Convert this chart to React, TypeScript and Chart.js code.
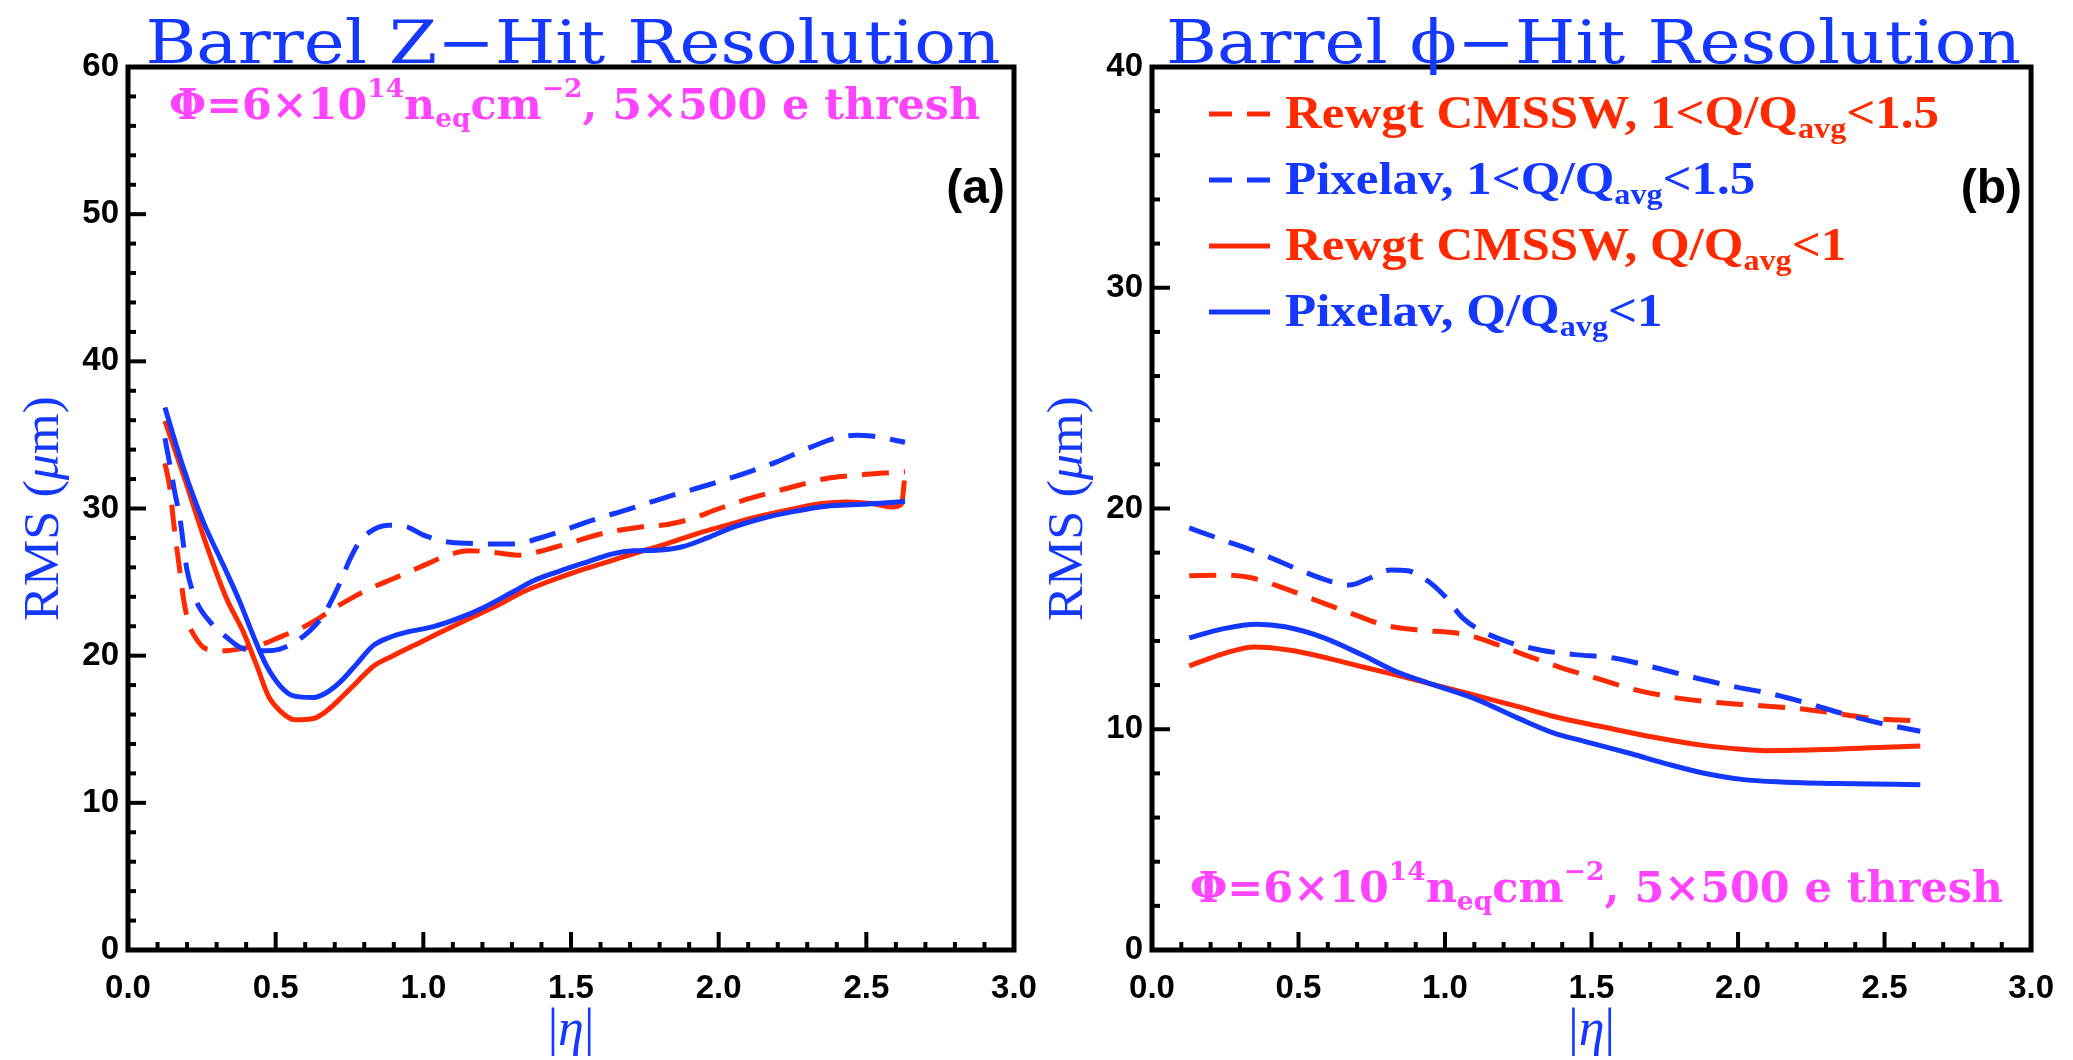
import React, { useEffect, useRef } from "react";
import { Chart, registerables } from "chart.js";
Chart.register(...registerables);

type Pt = [number, number];

const RED = "#ff2a00";
const BLUE = "#1438ff";
const MAGENTA = "#ff44ff";

// ---------- Panel (a): Barrel Z-hit resolution (RMS in um vs |eta|) ----------
const zPixelavHigh: Pt[] = [
  [0.125, 34.77], [0.142, 32.95], [0.158, 31.14], [0.176, 29.32], [0.188, 27.5], [0.199, 25.9],
  [0.216, 24.55], [0.238, 23.41], [0.289, 22.05], [0.334, 21.25], [0.379, 20.57], [0.424, 20.34],
  [0.469, 20.34], [0.515, 20.45], [0.565, 20.91], [0.616, 21.7], [0.661, 22.73], [0.695, 23.98],
  [0.724, 25.23], [0.747, 26.36], [0.78, 27.61], [0.819, 28.41], [0.882, 28.86], [0.944, 28.75],
  [1.001, 28.19], [1.077, 27.74], [1.17, 27.62], [1.261, 27.58], [1.321, 27.62], [1.389, 27.96],
  [1.455, 28.37], [1.573, 29.21], [1.691, 29.93], [1.826, 30.79], [1.961, 31.58], [2.096, 32.44],
  [2.197, 33.17], [2.315, 34.19], [2.399, 34.8], [2.466, 34.98], [2.517, 34.93], [2.631, 34.5],
];
const zRewgtHigh: Pt[] = [
  [0.125, 33.07], [0.142, 31.36], [0.153, 29.32], [0.164, 27.5], [0.176, 25.68], [0.188, 23.86],
  [0.204, 22.27], [0.221, 21.48], [0.266, 20.45], [0.334, 20.34], [0.391, 20.5], [0.458, 20.8],
  [0.526, 21.36], [0.582, 21.82], [0.639, 22.45], [0.695, 23.18], [0.763, 23.98], [0.83, 24.66],
  [0.898, 25.23], [0.989, 26.02], [1.085, 26.83], [1.152, 27.13], [1.22, 27.06], [1.321, 26.83],
  [1.389, 27.06], [1.489, 27.62], [1.607, 28.3], [1.742, 28.76], [1.826, 28.91], [1.91, 29.32],
  [1.995, 29.95], [2.096, 30.63], [2.23, 31.36], [2.365, 32.04], [2.466, 32.26], [2.569, 32.42],
  [2.631, 32.5],
];
const zPixelavLow: Pt[] = [
  [0.125, 36.86], [0.188, 32.73], [0.255, 29.09], [0.323, 26.14], [0.379, 23.64], [0.424, 21.36],
  [0.469, 19.32], [0.515, 17.95], [0.56, 17.27], [0.628, 17.16], [0.673, 17.5], [0.717, 18.18],
  [0.774, 19.43], [0.83, 20.68], [0.887, 21.25], [0.951, 21.63], [1.034, 21.97], [1.118, 22.53],
  [1.203, 23.26], [1.304, 24.34], [1.371, 25.07], [1.455, 25.7], [1.557, 26.38], [1.641, 26.92],
  [1.708, 27.13], [1.792, 27.17], [1.877, 27.4], [1.961, 28.0], [2.045, 28.7], [2.146, 29.32],
  [2.247, 29.77], [2.365, 30.16], [2.466, 30.27], [2.584, 30.4], [2.631, 30.5],
];
const zRewgtLow: Pt[] = [
  [0.125, 35.95], [0.188, 32.27], [0.266, 27.5], [0.334, 23.86], [0.391, 21.59], [0.436, 19.32],
  [0.475, 17.27], [0.515, 16.25], [0.565, 15.64], [0.628, 15.73], [0.673, 16.25], [0.717, 17.05],
  [0.774, 18.18], [0.83, 19.27], [0.898, 20.0], [0.989, 20.9], [1.051, 21.52], [1.152, 22.49],
  [1.253, 23.44], [1.338, 24.34], [1.422, 25.02], [1.523, 25.75], [1.624, 26.38], [1.725, 27.01],
  [1.826, 27.62], [1.927, 28.3], [2.028, 28.87], [2.129, 29.43], [2.247, 29.95], [2.348, 30.34],
  [2.433, 30.45], [2.517, 30.34], [2.586, 30.1], [2.619, 30.3], [2.629, 31.9],
];

// ---------- Panel (b): Barrel phi-hit resolution ----------
const phiPixelavHigh: Pt[] = [
  [0.127, 19.12], [0.245, 18.56], [0.378, 17.92], [0.492, 17.28], [0.606, 16.71], [0.673, 16.53],
  [0.74, 16.83], [0.815, 17.21], [0.873, 17.18], [0.929, 16.83], [0.996, 16.07], [1.062, 15.02],
  [1.12, 14.49], [1.214, 13.96], [1.328, 13.58], [1.443, 13.38], [1.576, 13.23], [1.709, 12.82],
  [1.843, 12.37], [1.976, 11.96], [2.109, 11.62], [2.242, 11.16], [2.356, 10.71], [2.489, 10.26],
  [2.622, 9.91],
];
const phiRewgtHigh: Pt[] = [
  [0.127, 16.95], [0.245, 16.98], [0.339, 16.86], [0.454, 16.37], [0.568, 15.8], [0.682, 15.24],
  [0.796, 14.71], [0.911, 14.49], [1.025, 14.38], [1.081, 14.26], [1.176, 13.84], [1.291, 13.28],
  [1.405, 12.75], [1.519, 12.3], [1.633, 11.84], [1.766, 11.47], [1.9, 11.24], [2.051, 11.09],
  [2.203, 10.94], [2.337, 10.71], [2.47, 10.48], [2.622, 10.38],
];
const phiPixelavLow: Pt[] = [
  [0.127, 14.14], [0.245, 14.56], [0.358, 14.76], [0.454, 14.64], [0.587, 14.14], [0.72, 13.35],
  [0.835, 12.6], [0.948, 12.07], [1.101, 11.39], [1.253, 10.48], [1.367, 9.85], [1.482, 9.43],
  [1.633, 8.9], [1.766, 8.4], [1.881, 8.02], [2.013, 7.73], [2.147, 7.61], [2.337, 7.54], [2.622, 7.49],
];
const phiRewgtLow: Pt[] = [
  [0.127, 12.87], [0.245, 13.43], [0.349, 13.73], [0.473, 13.58], [0.606, 13.2], [0.72, 12.82],
  [0.835, 12.45], [0.948, 12.07], [1.101, 11.54], [1.253, 11.01], [1.367, 10.59], [1.538, 10.11],
  [1.709, 9.65], [1.881, 9.27], [2.013, 9.09], [2.09, 9.03], [2.242, 9.06], [2.432, 9.15], [2.622, 9.24],
];

const etaRange: Pt = [0, 3];
const zRange: Pt = [0, 60];
const phiRange: Pt = [0, 40];

const titles = ["Barrel Z\u2212Hit Resolution", "Barrel \u03D5\u2212Hit Resolution"];
const panelLabels = ["(a)", "(b)"];

type Run = { t: string; k: "n" | "sup" | "sub" | "it" };

const fluenceRuns: Run[] = [
  { t: "\u03A6=6\u00D710", k: "n" },
  { t: "14", k: "sup" },
  { t: "n", k: "n" },
  { t: "eq", k: "sub" },
  { t: "cm", k: "n" },
  { t: "\u22122", k: "sup" },
  { t: ", 5\u00D7500 e thresh", k: "n" },
];

const legendEntries: { runs: Run[]; color: string; dashed: boolean }[] = [
  { runs: [{ t: "Rewgt CMSSW, 1<Q/Q", k: "n" }, { t: "avg", k: "sub" }, { t: "<1.5", k: "n" }], color: RED, dashed: true },
  { runs: [{ t: "Pixelav, 1<Q/Q", k: "n" }, { t: "avg", k: "sub" }, { t: "<1.5", k: "n" }], color: BLUE, dashed: true },
  { runs: [{ t: "Rewgt CMSSW, Q/Q", k: "n" }, { t: "avg", k: "sub" }, { t: "<1", k: "n" }], color: RED, dashed: false },
  { runs: [{ t: "Pixelav, Q/Q", k: "n" }, { t: "avg", k: "sub" }, { t: "<1", k: "n" }], color: BLUE, dashed: false },
];

const DASH = [27, 15];

function drawRuns(
  ctx: CanvasRenderingContext2D,
  runs: Run[],
  fonts: Record<string, string>,
  shifts: Record<string, number>,
  x: number,
  y: number,
  sx: number,
  color: string
) {
  ctx.save();
  ctx.translate(x, y);
  ctx.scale(sx, 1);
  ctx.fillStyle = color;
  ctx.textAlign = "left";
  ctx.textBaseline = "alphabetic";
  let cx = 0;
  for (const r of runs) {
    ctx.font = fonts[r.k];
    ctx.fillText(r.t, cx, shifts[r.k]);
    cx += ctx.measureText(r.t).width;
  }
  ctx.restore();
}

function measureRuns(ctx: CanvasRenderingContext2D, runs: Run[], fonts: Record<string, string>) {
  let w = 0;
  ctx.save();
  for (const r of runs) {
    ctx.font = fonts[r.k];
    w += ctx.measureText(r.t).width;
  }
  ctx.restore();
  return w;
}

const fluFonts = {
  n: 'bold 42px "DejaVu Serif"',
  sup: 'bold 26px "DejaVu Serif"',
  sub: 'bold 26px "DejaVu Serif"',
  it: 'bold 42px "DejaVu Serif"',
};
const fluShifts = { n: 0, sup: -22, sub: 8, it: 0 };

const legFonts = {
  n: 'bold 46px "Liberation Serif"',
  sup: 'bold 28px "Liberation Serif"',
  sub: 'bold 29px "Liberation Serif"',
  it: 'italic bold 46px "Liberation Serif"',
};
const legShifts = { n: 0, sup: -16, sub: 10, it: 0 };

type PanelCfg = {
  idx: number;
  yMax: number;
  fluenceX: number;
  fluenceY: number;
  fluenceW: number;
  legend: boolean;
};

function makePlugin(cfg: PanelCfg) {
  return {
    id: "panelDeco" + cfg.idx,
    afterDatasetsDraw(chart: any) {
      const ctx: CanvasRenderingContext2D = chart.ctx;
      const a = chart.chartArea;
      const xs = chart.scales.x;
      const ys = chart.scales.y;
      ctx.save();
      ctx.strokeStyle = "#000";
      ctx.lineWidth = 4;
      for (let i = 1; i < 30; i++) {
        const px = xs.getPixelForValue(i / 10);
        const len = i % 5 === 0 ? 18 : 8;
        ctx.beginPath();
        ctx.moveTo(px, a.bottom);
        ctx.lineTo(px, a.bottom - len);
        ctx.stroke();
      }
      for (let v = 2; v < cfg.yMax; v += 2) {
        const py = ys.getPixelForValue(v);
        const len = v % 10 === 0 ? 18 : 8;
        ctx.beginPath();
        ctx.moveTo(a.left, py);
        ctx.lineTo(a.left + len, py);
        ctx.stroke();
      }
      ctx.lineWidth = 5;
      ctx.strokeRect(a.left, a.top, a.right - a.left, a.bottom - a.top);

      const cxPlot = (a.left + a.right) / 2;
      // title
      ctx.font = '60px "DejaVu Serif"';
      const tw = ctx.measureText(titles[cfg.idx]).width;
      ctx.save();
      ctx.translate(cxPlot + 2, 63);
      ctx.scale(855 / tw, 1);
      ctx.fillStyle = BLUE;
      ctx.textAlign = "center";
      ctx.textBaseline = "alphabetic";
      ctx.fillText(titles[cfg.idx], 0, 0);
      ctx.restore();

      // fluence annotation
      const fw = measureRuns(ctx, fluenceRuns, fluFonts);
      drawRuns(ctx, fluenceRuns, fluFonts, fluShifts, cfg.fluenceX, cfg.fluenceY, cfg.fluenceW / fw, MAGENTA);

      // panel label
      ctx.font = 'bold 48px "Liberation Sans"';
      ctx.fillStyle = "#000";
      ctx.textAlign = "right";
      ctx.textBaseline = "alphabetic";
      ctx.fillText(panelLabels[cfg.idx], a.right - 9, 203);

      // y title
      ctx.save();
      ctx.translate(a.left - 70, (a.top + a.bottom) / 2);
      ctx.rotate(-Math.PI / 2);
      const yRuns: Run[] = [{ t: "RMS (", k: "n" }, { t: "\u03BC", k: "it" }, { t: "m)", k: "n" }];
      const yFonts = { n: '50px "Liberation Serif"', it: 'italic 50px "Liberation Serif"', sup: "", sub: "" };
      const yw = measureRuns(ctx, yRuns, yFonts);
      const ysx = 225 / yw;
      drawRuns(ctx, yRuns, yFonts, { n: 0, it: 0, sup: 0, sub: 0 }, (-yw * ysx) / 2, 0, ysx, BLUE);
      ctx.restore();

      // x title
      const xRuns: Run[] = [{ t: "|", k: "n" }, { t: "\u03B7", k: "it" }, { t: "|", k: "n" }];
      const xFonts = { n: '52px "Liberation Serif"', it: 'italic 52px "Liberation Serif"', sup: "", sub: "" };
      const xw = measureRuns(ctx, xRuns, xFonts);
      drawRuns(ctx, xRuns, xFonts, { n: 0, it: 0, sup: 0, sub: 0 }, cxPlot - xw / 2, 1045, 1, BLUE);

      // legend
      if (cfg.legend) {
        const w0 = measureRuns(ctx, legendEntries[0].runs, legFonts);
        const lsx = 654 / w0;
        const x0 = a.left + 57;
        const tx = a.left + 133;
        legendEntries.forEach((e, i) => {
          const base = 128 + i * 66;
          const ly = base - 14;
          ctx.save();
          ctx.strokeStyle = e.color;
          ctx.lineWidth = 5;
          ctx.setLineDash(e.dashed ? [23, 15] : []);
          ctx.beginPath();
          ctx.moveTo(x0, ly);
          ctx.lineTo(x0 + 61, ly);
          ctx.stroke();
          ctx.restore();
          drawRuns(ctx, e.runs, legFonts, legShifts, tx, base, lsx, e.color);
        });
      }
      ctx.restore();
    },
  };
}

function toXY(p: Pt[]) {
  return p.map(([x, y]) => ({ x, y }));
}

function ds(data: Pt[], color: string, dashed: boolean) {
  return {
    data: toXY(data),
    borderColor: color,
    backgroundColor: color,
    borderWidth: 5,
    borderDash: dashed ? DASH : [],
    pointRadius: 0,
    fill: false,
    cubicInterpolationMode: "monotone" as const,
    borderCapStyle: "butt" as const,
  };
}

function makeConfig(
  series: { data: Pt[]; color: string; dashed: boolean }[],
  yRange: Pt,
  yAxisWidth: number,
  padRight: number,
  plugin: any
): any {
  return {
    type: "line",
    data: { datasets: series.map((s) => ds(s.data, s.color, s.dashed)) },
    options: {
      responsive: false,
      animation: false,
      layout: { padding: { top: 67, right: padRight, left: 0, bottom: 0 } },
      plugins: { legend: { display: false }, tooltip: { enabled: false }, title: { display: false } },
      scales: {
        x: {
          type: "linear",
          min: etaRange[0],
          max: etaRange[1],
          grid: { display: false, drawTicks: false },
          border: { display: false },
          ticks: {
            stepSize: 0.5,
            autoSkip: false,
            maxRotation: 0,
            padding: 19,
            color: "#000",
            font: { family: "Liberation Sans", weight: "bold", size: 33 },
            callback: (v: any) => Number(v).toFixed(1),
          },
          afterFit: (s: any) => {
            s.height = 110;
          },
        },
        y: {
          type: "linear",
          min: yRange[0],
          max: yRange[1],
          grid: { display: false, drawTicks: false },
          border: { display: false },
          ticks: {
            stepSize: 10,
            autoSkip: false,
            padding: 9,
            color: "#000",
            font: { family: "Liberation Sans", weight: "bold", size: 33 },
            callback: (v: any) => String(v),
          },
          afterFit: (s: any) => {
            s.width = yAxisWidth;
          },
        },
      },
    },
    plugins: [plugin],
  };
}

export default function App() {
  const leftRef = useRef<HTMLCanvasElement>(null);
  const rightRef = useRef<HTMLCanvasElement>(null);

  useEffect(() => {
    const left = new Chart(
      leftRef.current!,
      makeConfig(
        [
          { data: zPixelavHigh, color: BLUE, dashed: true },
          { data: zRewgtHigh, color: RED, dashed: true },
          { data: zPixelavLow, color: BLUE, dashed: false },
          { data: zRewgtLow, color: RED, dashed: false },
        ],
        zRange,
        128,
        1100 - 1014,
        makePlugin({ idx: 0, yMax: zRange[1], fluenceX: 169, fluenceY: 119, fluenceW: 811, legend: false })
      )
    );
    const right = new Chart(
      rightRef.current!,
      makeConfig(
        [
          { data: phiPixelavHigh, color: BLUE, dashed: true },
          { data: phiRewgtHigh, color: RED, dashed: true },
          { data: phiPixelavLow, color: BLUE, dashed: false },
          { data: phiRewgtLow, color: RED, dashed: false },
        ],
        phiRange,
        1152 - 1036,
        2073 - 2038,
        makePlugin({ idx: 1, yMax: phiRange[1], fluenceX: 1190 - 1036, fluenceY: 902, fluenceW: 813, legend: true })
      )
    );
    return () => {
      left.destroy();
      right.destroy();
    };
  }, []);

  return (
    <div style={{ position: "absolute", left: 0, top: 0, width: 2073, height: 1060, background: "#fff", overflow: "hidden" }}>
      <canvas ref={leftRef} width={1100} height={1060} style={{ position: "absolute", left: 0, top: 0, width: 1100, height: 1060 }} />
      <canvas ref={rightRef} width={1037} height={1060} style={{ position: "absolute", left: 1036, top: 0, width: 1037, height: 1060 }} />
    </div>
  );
}
